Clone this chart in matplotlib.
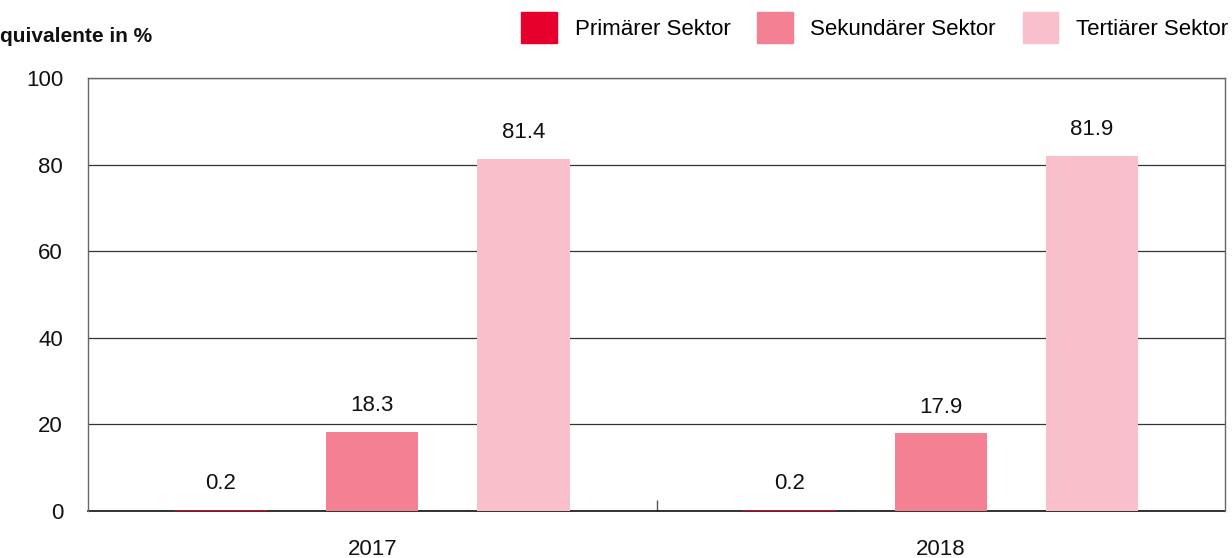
import numpy as np
import matplotlib.pyplot as plt
from matplotlib.patches import Patch

plt.rcParams['font.family'] = ['Liberation Sans', 'DejaVu Sans']

years = ["2017", "2018"]
sectors = ["Primärer Sektor", "Sekundärer Sektor", "Tertiärer Sektor"]
primaer = [0.2, 0.2]
sekundaer = [18.3, 17.9]
tertiaer = [81.4, 81.9]
colors = ["#E8002D", "#F48193", "#F9BFCB"]

W, H = 1232, 558
fig = plt.figure(figsize=(W/100, H/100), dpi=100)
ax = fig.add_axes([88/W, 1 - 511/H, (1225-88)/W, (511-78)/H])

x = np.arange(len(years))
offsets = [-0.266, 0.0, 0.266]
width = 0.162
for vals, off, col in zip([primaer, sekundaer, tertiaer], offsets, colors):
    bars = ax.bar(x + off, vals, width, color=col, zorder=3)
    for b, v in zip(bars, vals):
        ax.annotate(f"{v:.1f}", (b.get_x() + b.get_width()/2, v),
                    xytext=(0, 19), textcoords="offset points",
                    ha="center", va="center", fontsize=16, color="#111111")

ax.set_xlim(-0.5, 1.5)
ax.set_ylim(0, 100)
ax.set_yticks([0, 20, 40, 60, 80, 100])
ax.yaxis.grid(True, color="#333333", linewidth=0.9, zorder=0)
ax.tick_params(axis="y", length=0, labelsize=16, pad=18, labelcolor="#111111")

# category separator tick at the bottom
ax.set_xticks([0.5])
ax.set_xticklabels([""])
ax.tick_params(axis="x", direction="in", length=8, color="#555555", width=1)
for xi, y in zip(x, years):
    ax.annotate(y, (xi, 0), xycoords=("data", "axes fraction"),
                xytext=(0, -28), textcoords="offset points",
                ha="center", va="center", fontsize=16, color="#111111")

for s in ["left", "top", "right"]:
    ax.spines[s].set_color("#666666")
    ax.spines[s].set_linewidth(1)
ax.spines["bottom"].set_color("#111111")
ax.spines["bottom"].set_linewidth(1.2)
ax.spines["bottom"].set_zorder(2)

fig.text(0, 1 - 37/H, "quivalente in %", ha="left", va="center",
         fontsize=15, fontweight="bold", color="#111111")

handles = [Patch(color=c) for c in colors]
fig.legend(handles, sectors, loc="upper right", bbox_to_anchor=(1228/W, 1 - 12/H),
           ncol=3, frameon=False, fontsize=16, handlelength=1.6, handleheight=1.8,
           handletextpad=0.8, columnspacing=1.2, borderaxespad=0, borderpad=0)

fig.savefig("out.png", dpi=100)
